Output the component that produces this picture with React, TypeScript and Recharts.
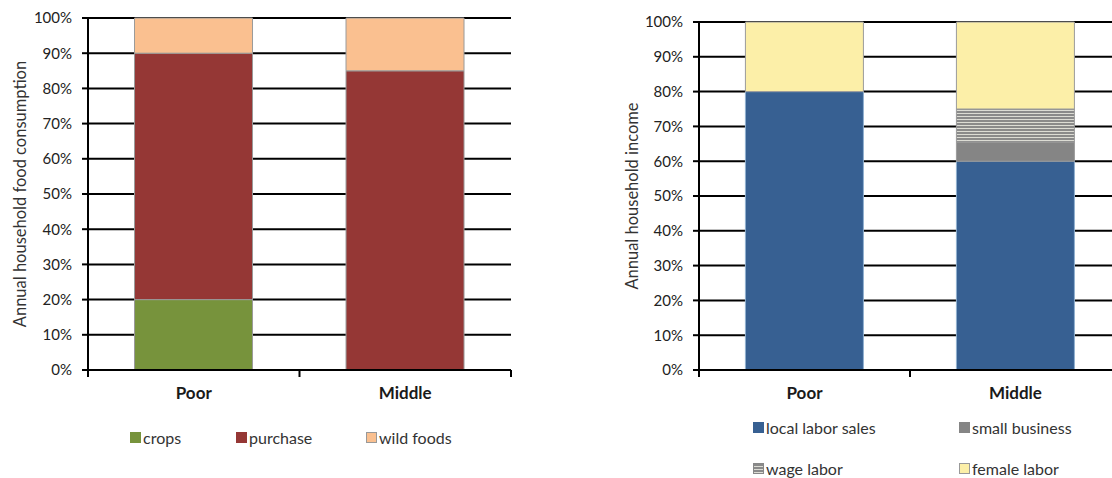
import { BarChart, Bar, XAxis, YAxis, CartesianGrid } from 'recharts';

// household groups shown on both panels
const groups = ['Poor', 'Middle'];

// food consumption shares (%)
const crops = [20, 0];
const purchase = [70, 85];
const wildFoods = [10, 15];

// income shares (%)
const localLaborSales = [80, 60];
const smallBusiness = [0, 5.5];
const wageLabor = [0, 9.5];
const femaleLabor = [20, 25];

const percentTicks = [0, 10, 20, 30, 40, 50, 60, 70, 80, 90, 100];

const FONT = 'Lato, "Open Sans", sans-serif';
const BAR_EDGE = '#9a9a9a';

const foodData = groups.map((g, i) => ({
  group: g,
  crops: crops[i],
  purchase: purchase[i],
  wild: wildFoods[i],
}));

const incomeData = groups.map((g, i) => ({
  group: g,
  local: localLaborSales[i],
  small: smallBusiness[i],
  wage: wageLabor[i],
  female: femaleLabor[i],
}));

const pct = (v: number) => `${v}%`;

// category label plus an Excel-style tick mark between categories
const GroupTick = (props: any) => {
  const { x, y, payload, index } = props;
  const half = payload?.offset ?? 0;
  return (
    <g>
      {index === 0 && (
        <line x1={x - half} x2={x - half} y1={y - 7} y2={y} stroke="#000" strokeWidth={2} />
      )}
      <line x1={x + half} x2={x + half} y1={y - 7} y2={y} stroke="#000" strokeWidth={2} />
      <text
        x={x}
        y={y + 22}
        textAnchor="middle"
        fontFamily={FONT}
        fontSize={17}
        fontWeight="bold"
        fill="#1a1a1a"
      >
        {payload.value}
      </text>
    </g>
  );
};

const yTick = { fontSize: 15, fill: '#222', fontFamily: FONT };
const axisTitle = { textAnchor: 'middle', fontSize: 16.5, fill: '#333', fontFamily: FONT };

type LegendItem = { name: string; swatch: string; left: number; top: number; border?: string };

const foodLegend: LegendItem[] = [
  { name: 'crops', swatch: '#77933c', left: 130, top: 437 },
  { name: 'purchase', swatch: '#953735', left: 236, top: 437 },
  { name: 'wild foods', swatch: '#fac090', left: 366, top: 437, border: '#999' },
];

const stripes = 'repeating-linear-gradient(to bottom, #8a8a8a 0px, #8a8a8a 2px, #dcdcd4 2px, #dcdcd4 3px)';

const incomeLegend: LegendItem[] = [
  { name: 'local labor sales', swatch: '#376092', left: 753, top: 427 },
  { name: 'small business', swatch: '#858585', left: 959, top: 427 },
  { name: 'wage labor', swatch: stripes, left: 753, top: 468, border: '#888' },
  { name: 'female labor', swatch: '#fcefa8', left: 959, top: 468, border: '#999' },
];

function Legend({ items }: { items: LegendItem[] }) {
  return (
    <>
      {items.map((it) => (
        <div
          key={it.name}
          style={{
            position: 'absolute',
            left: it.left,
            top: it.top - 11,
            height: 22,
            display: 'flex',
            alignItems: 'center',
            fontFamily: FONT,
            fontSize: 16,
            color: '#333',
            whiteSpace: 'nowrap',
          }}
        >
          <span
            style={{
              display: 'inline-block',
              width: 11,
              height: 11,
              boxSizing: 'border-box',
              background: it.swatch,
              border: it.border ? `1px solid ${it.border}` : 'none',
              marginRight: 2,
            }}
          />
          {it.name}
        </div>
      ))}
    </>
  );
}

export default function App() {
  return (
    <div
      style={{
        position: 'absolute',
        left: 0,
        top: 0,
        width: 1112,
        height: 478,
        overflow: 'hidden',
        background: '#fff',
        fontFamily: FONT,
      }}
    >
      <div style={{ position: 'absolute', left: 0, top: 0 }}>
        <BarChart
          width={560}
          height={478}
          data={foodData}
          margin={{ top: 18, right: 49, bottom: 78, left: 10 }}
          barCategoryGap="22%"
        >
          <CartesianGrid vertical={false} stroke="#000" strokeWidth={2} />
          <XAxis
            dataKey="group"
            axisLine={{ stroke: '#000', strokeWidth: 2 }}
            tickLine={false}
            tickSize={7}
            tickMargin={0}
            height={30}
            tick={<GroupTick />}
            interval={0}
          />
          <YAxis
            domain={[0, 100]}
            ticks={percentTicks}
            tickFormatter={pct}
            width={78}
            tick={yTick}
            tickSize={6}
            tickMargin={10}
            tickLine={{ stroke: '#000', strokeWidth: 2 }}
            axisLine={{ stroke: '#000', strokeWidth: 2 }}
            label={{
              value: 'Annual household food consumption',
              angle: -90,
              position: 'insideLeft',
              offset: 10,
              style: axisTitle,
            }}
          />
          <YAxis
            yAxisId="edge"
            orientation="right"
            width={0}
            domain={[0, 100]}
            tick={false}
            tickLine={false}
            axisLine={{ stroke: '#000', strokeWidth: 2 }}
          />
          <Bar dataKey="crops" name="crops" stackId="a" fill="#77933c" stroke={BAR_EDGE} isAnimationActive={false} />
          <Bar dataKey="purchase" name="purchase" stackId="a" fill="#953735" stroke={BAR_EDGE} isAnimationActive={false} />
          <Bar dataKey="wild" name="wild foods" stackId="a" fill="#fac090" stroke={BAR_EDGE} isAnimationActive={false} />
        </BarChart>
      </div>

      <div style={{ position: 'absolute', left: 560, top: 0 }}>
        <BarChart
          width={600}
          height={478}
          data={incomeData}
          margin={{ top: 22, right: 39, bottom: 78, left: 10 }}
          barCategoryGap="22%"
        >
          <defs>
            <pattern id="wageStripes" width={6} height={3} patternUnits="userSpaceOnUse">
              <rect width={6} height={3} fill="#8a8a8a" />
              <rect y={2} width={6} height={1} fill="#dcdcd4" />
            </pattern>
          </defs>
          <CartesianGrid vertical={false} stroke="#000" strokeWidth={2} />
          <XAxis
            dataKey="group"
            axisLine={{ stroke: '#000', strokeWidth: 2 }}
            tickLine={false}
            tickSize={7}
            tickMargin={0}
            height={30}
            tick={<GroupTick />}
            interval={0}
          />
          <YAxis
            domain={[0, 100]}
            ticks={percentTicks}
            tickFormatter={pct}
            width={129}
            tick={yTick}
            tickSize={6}
            tickMargin={10}
            tickLine={{ stroke: '#000', strokeWidth: 2 }}
            axisLine={{ stroke: '#000', strokeWidth: 2 }}
            label={{
              value: 'Annual household income',
              angle: -90,
              position: 'insideLeft',
              offset: 62,
              style: axisTitle,
            }}
          />
          <Bar dataKey="local" name="local labor sales" stackId="b" fill="#376092" stroke="#8fb0d0" isAnimationActive={false} />
          <Bar dataKey="small" name="small business" stackId="b" fill="#858585" stroke={BAR_EDGE} isAnimationActive={false} />
          <Bar dataKey="wage" name="wage labor" stackId="b" fill="url(#wageStripes)" stroke={BAR_EDGE} isAnimationActive={false} />
          <Bar dataKey="female" name="female labor" stackId="b" fill="#fcefa8" stroke={BAR_EDGE} isAnimationActive={false} />
        </BarChart>
      </div>

      <Legend items={foodLegend} />
      <Legend items={incomeLegend} />
    </div>
  );
}
